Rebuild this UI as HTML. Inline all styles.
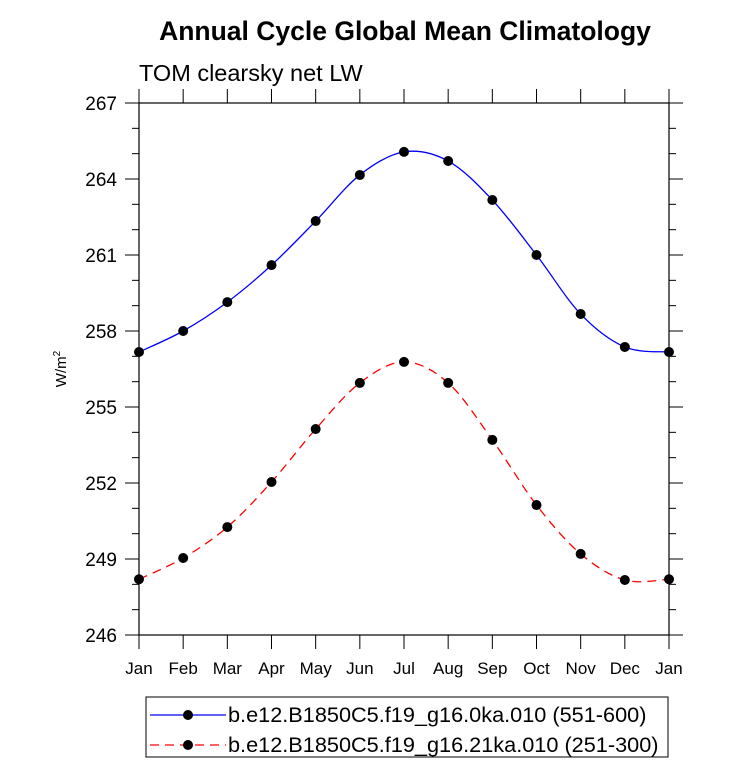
<!DOCTYPE html>
<html><head><meta charset="utf-8"><style>body{margin:0;background:#fff}</style></head>
<body>
<svg id="c" width="733" height="773" xmlns="http://www.w3.org/2000/svg" font-family="Liberation Sans, sans-serif">
<text x="405" y="40" text-anchor="middle" font-size="26.5" font-weight="bold">Annual Cycle Global Mean Climatology</text>
<text x="139" y="81" font-size="23.5">TOM clearsky net LW</text>
<text transform="translate(66,369) rotate(-90)" text-anchor="middle" font-size="15">W/m<tspan dy="-6" font-size="10">2</tspan></text>
<g id="axes"></g>
<g id="series"></g>
<g>
<rect x="146" y="697" width="522" height="60" fill="none" stroke="#000" stroke-width="1"/>
<line x1="150" y1="715" x2="226" y2="715" stroke="#0000ff" stroke-width="1.3"/>
<circle cx="188" cy="715" r="5" fill="#000"/>
<text x="228" y="722" font-size="21.7">b.e12.B1850C5.f19_g16.0ka.010 (551-600)</text>
<line x1="150" y1="745" x2="226" y2="745" stroke="#ff0000" stroke-width="1.3" stroke-dasharray="9,6"/>
<circle cx="188" cy="745" r="5" fill="#000"/>
<text x="228" y="752" font-size="21.7">b.e12.B1850C5.f19_g16.21ka.010 (251-300)</text>
</g>
</svg>
<script>
const months=["Jan","Feb","Mar","Apr","May","Jun","Jul","Aug","Sep","Oct","Nov","Dec","Jan"];
const blueValues=[257.17,258.0,259.14,260.6,262.34,264.16,265.07,264.71,263.17,261.0,258.67,257.37,257.17];
const redValues=[248.2,249.04,250.26,252.04,254.13,255.95,256.78,255.95,253.7,251.13,249.2,248.17,248.2];
const yTicks=[246,249,252,255,258,261,264,267];
const X0=139,X1=669,Y0=635,Y1=103,YMIN=246,YMAX=267;
const ns="http://www.w3.org/2000/svg";
function xs(i){return X0+(X1-X0)*i/(months.length-1);}
function ys(v){return Y0-(v-YMIN)/(YMAX-YMIN)*(Y0-Y1);}
function mk(t,a,p){const e=document.createElementNS(ns,t);for(const k in a)e.setAttribute(k,a[k]);p.appendChild(e);return e;}
const ax=document.getElementById('axes');
const frame=mk('rect',{x:X0,y:Y1,width:X1-X0,height:Y0-Y1,fill:'none',stroke:'#000','stroke-width':1.2},ax);


for(let v=YMIN;v<=YMAX;v++){const y=ys(v);const maj=yTicks.includes(v);const L=maj?14:7;
mk('line',{x1:X0-L,y1:y,x2:X0,y2:y,stroke:'#000','stroke-width':1},ax);
mk('line',{x1:X1,y1:y,x2:X1+L,y2:y,stroke:'#000','stroke-width':1},ax);}
yTicks.forEach(v=>{const t=mk('text',{x:X0-22,y:ys(v)+7,'text-anchor':'end','font-size':19},ax);t.textContent=v;

});
months.forEach((m,i)=>{const x=xs(i);
mk('line',{x1:x,y1:Y0,x2:x,y2:Y0+14,stroke:'#000','stroke-width':1},ax);
mk('line',{x1:x,y1:Y1-14,x2:x,y2:Y1,stroke:'#000','stroke-width':1},ax);
const t=mk('text',{x:x,y:Y0+39,'text-anchor':'middle','font-size':17},ax);t.textContent=m;

});
const sg=document.getElementById('series');
function smoothPath(pts){let d='M'+pts[0][0]+','+pts[0][1];
for(let i=0;i<pts.length-1;i++){const p0=pts[Math.max(i-1,0)],p1=pts[i],p2=pts[i+1],p3=pts[Math.min(i+2,pts.length-1)];
const c1=[p1[0]+(p2[0]-p0[0])/6,p1[1]+(p2[1]-p0[1])/6],c2=[p2[0]-(p3[0]-p1[0])/6,p2[1]-(p3[1]-p1[1])/6];
d+=' C'+c1+' '+c2+' '+p2;}return d;}
function draw(vals,color,dash,name){
const pts=vals.map((v,i)=>[xs(i),ys(v)]);
const p=mk('path',{d:smoothPath(pts),fill:'none',stroke:color,'stroke-width':1.3,'stroke-dasharray':dash},sg);


vals.forEach((v,i)=>{const c=mk('circle',{cx:xs(i),cy:ys(v),r:5,fill:'#000'},sg);

});}
draw(blueValues,'#0000ff','none','blue-series');
draw(redValues,'#ff0000','9,6','red-series');
</script>
</body></html>
